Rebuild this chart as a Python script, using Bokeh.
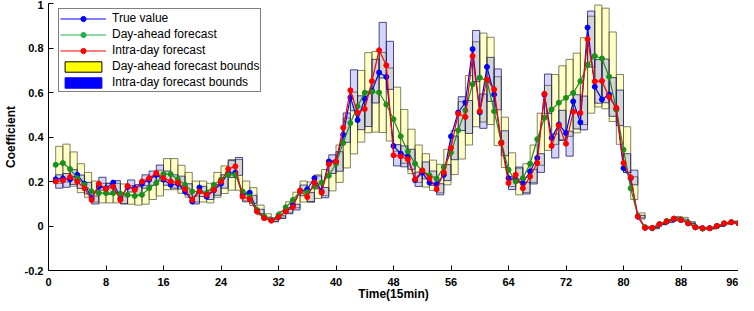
from bokeh.plotting import figure
from bokeh.models import Legend, LegendItem, FixedTicker, ColumnDataSource, Range1d
from bokeh.embed import file_html
from bokeh.resources import INLINE

# ---------------- data ----------------
time_index = list(range(1, 97))

true_value = [0.21, 0.214, 0.21, 0.23, 0.19, 0.125, 0.177, 0.17, 0.195, 0.125,
              0.175, 0.17, 0.19, 0.208, 0.23, 0.208, 0.185, 0.19, 0.155, 0.11,
              0.173, 0.132, 0.16, 0.19, 0.238, 0.24, 0.14, 0.15, 0.07, 0.04,
              0.027, 0.04, 0.068, 0.095, 0.155, 0.165, 0.215, 0.155, 0.29, 0.29,
              0.41, 0.578, 0.476, 0.572, 0.608, 0.69, 0.67, 0.36, 0.325, 0.313,
              0.206, 0.24, 0.195, 0.188, 0.23, 0.403, 0.51, 0.555, 0.795, 0.511,
              0.715, 0.591, 0.376, 0.215, 0.208, 0.193, 0.245, 0.306, 0.591, 0.396,
              0.456, 0.418, 0.56, 0.466, 0.892, 0.626, 0.569, 0.591, 0.524, 0.26,
              0.215, 0.042, -0.008, -0.01, 0.008, 0.02, 0.03, 0.027, 0.012, -0.006,
              -0.01, -0.01, 0.0, 0.01, 0.017, 0.012]

day_ahead = [0.275, 0.283, 0.256, 0.215, 0.185, 0.155, 0.148, 0.148, 0.148, 0.145,
             0.14, 0.135, 0.14, 0.17, 0.193, 0.233, 0.233, 0.21, 0.185, 0.155,
             0.155, 0.148, 0.185, 0.208, 0.23, 0.23, 0.155, 0.132, 0.072, 0.042,
             0.027, 0.05, 0.084, 0.117, 0.155, 0.152, 0.177, 0.195, 0.226, 0.28,
             0.373, 0.463, 0.538, 0.599, 0.603, 0.6, 0.546, 0.48, 0.403, 0.335,
             0.28, 0.25, 0.228, 0.213, 0.265, 0.33, 0.43, 0.52, 0.637, 0.667,
             0.652, 0.516, 0.376, 0.253, 0.2, 0.215, 0.28, 0.39, 0.486, 0.524,
             0.554, 0.576, 0.598, 0.651, 0.725, 0.764, 0.753, 0.671, 0.524, 0.343,
             0.17, 0.045, -0.005, -0.01, 0.008, 0.022, 0.033, 0.03, 0.015, -0.004,
             -0.012, -0.01, 0.0, 0.012, 0.017, 0.012]

intra_day = [0.2, 0.205, 0.22, 0.199, 0.17, 0.117, 0.19, 0.167, 0.177, 0.117,
             0.18, 0.162, 0.2, 0.215, 0.238, 0.215, 0.2, 0.195, 0.165, 0.117,
             0.155, 0.14, 0.162, 0.2, 0.256, 0.268, 0.132, 0.12, 0.065, 0.035,
             0.024, 0.04, 0.065, 0.085, 0.16, 0.13, 0.196, 0.15, 0.278, 0.29,
             0.442, 0.61, 0.509, 0.526, 0.651, 0.79, 0.722, 0.318, 0.313, 0.3,
             0.21, 0.25, 0.215, 0.165, 0.24, 0.351, 0.505, 0.49, 0.764, 0.516,
             0.659, 0.614, 0.372, 0.193, 0.23, 0.17, 0.222, 0.283, 0.594, 0.36,
             0.452, 0.37, 0.513, 0.508, 0.84, 0.65, 0.652, 0.58, 0.531, 0.283,
             0.218, 0.042, -0.008, -0.008, 0.008, 0.02, 0.033, 0.027, 0.012, -0.006,
             -0.01, -0.01, 0.0, 0.012, 0.017, 0.012]

# half-height of the forecast bound boxes
day_ahead_band = [0.083, 0.085, 0.077, 0.065, 0.056, 0.047, 0.044, 0.044, 0.044, 0.044,
                  0.042, 0.041, 0.042, 0.051, 0.058, 0.07, 0.07, 0.063, 0.056, 0.047,
                  0.047, 0.044, 0.056, 0.062, 0.069, 0.069, 0.047, 0.04, 0.022, 0.013,
                  0.008, 0.015, 0.025, 0.035, 0.047, 0.046, 0.053, 0.059, 0.068, 0.084,
                  0.112, 0.139, 0.161, 0.18, 0.181, 0.18, 0.164, 0.144, 0.121, 0.1,
                  0.084, 0.075, 0.068, 0.064, 0.08, 0.099, 0.129, 0.156, 0.191, 0.2,
                  0.196, 0.155, 0.113, 0.076, 0.06, 0.065, 0.084, 0.117, 0.146, 0.157,
                  0.166, 0.173, 0.179, 0.195, 0.218, 0.229, 0.226, 0.201, 0.157, 0.103,
                  0.051, 0.014, 0.003, 0.003, 0.003, 0.007, 0.01, 0.009, 0.005, 0.002,
                  0.004, 0.003, 0.001, 0.004, 0.005, 0.004]

intra_day_band = [0.03, 0.031, 0.033, 0.03, 0.026, 0.018, 0.029, 0.025, 0.027, 0.018,
                  0.027, 0.024, 0.03, 0.032, 0.036, 0.032, 0.03, 0.029, 0.025, 0.018,
                  0.023, 0.021, 0.024, 0.03, 0.038, 0.04, 0.02, 0.018, 0.01, 0.005,
                  0.004, 0.006, 0.01, 0.013, 0.024, 0.02, 0.029, 0.023, 0.042, 0.044,
                  0.066, 0.092, 0.076, 0.079, 0.098, 0.125, 0.108, 0.048, 0.047, 0.045,
                  0.032, 0.038, 0.032, 0.025, 0.036, 0.053, 0.076, 0.074, 0.115, 0.077,
                  0.099, 0.092, 0.056, 0.029, 0.035, 0.026, 0.033, 0.042, 0.089, 0.054,
                  0.068, 0.056, 0.077, 0.076, 0.126, 0.098, 0.098, 0.087, 0.08, 0.042,
                  0.033, 0.006, 0.001, 0.001, 0.001, 0.003, 0.005, 0.004, 0.002, 0.001,
                  0.002, 0.002, 0.0, 0.002, 0.003, 0.002]

x_ticks = [0, 8, 16, 24, 32, 40, 48, 56, 64, 72, 80, 88, 96]
y_ticks = [-0.2, 0, 0.2, 0.4, 0.6, 0.8, 1]
y_tick_labels = ["-0.2", "0", "0.2", "0.4", "0.6", "0.8", "1"]

# ---------------- sources ----------------
src = ColumnDataSource(dict(
    t=time_index,
    t_right=[v + 1 for v in time_index],
    true_value=true_value,
    day_ahead=day_ahead,
    intra_day=intra_day,
    da_low=[f - b for f, b in zip(day_ahead, day_ahead_band)],
    da_high=[f + b for f, b in zip(day_ahead, day_ahead_band)],
    id_low=[f - b for f, b in zip(intra_day, intra_day_band)],
    id_high=[f + b for f, b in zip(intra_day, intra_day_band)],
))

FONT = "Liberation Sans"

p = figure(width=738, height=303, x_range=Range1d(0, 96), y_range=Range1d(-0.2, 1),
           output_backend="svg", toolbar_location=None,
           min_border_left=39, min_border_right=0, min_border_top=3, min_border_bottom=0)
p.xgrid.visible = False
p.ygrid.visible = False
p.outline_line_color = None
p.background_fill_color = "white"

# bound boxes
da_r = p.quad(left="t", right="t_right", bottom="da_low", top="da_high", source=src,
              fill_color="#ffff00", fill_alpha=0.22, line_color="#5a5a3a", line_alpha=0.75,
              line_width=1)
id_r = p.quad(left="t", right="t_right", bottom="id_low", top="id_high", source=src,
              fill_color="#0000ff", fill_alpha=0.17, line_color="#202060", line_alpha=0.8,
              line_width=1)

# series
GREEN = "#1a8f1a"
tl = p.line("t", "true_value", source=src, line_color="#0000ff", line_width=1.2)
ts = p.scatter("t", "true_value", source=src, size=5, fill_color="#0000ff", line_color="#0000ff")
gl = p.line("t", "day_ahead", source=src, line_color=GREEN, line_width=1.2)
gs = p.scatter("t", "day_ahead", source=src, size=5, fill_color=GREEN, line_color=GREEN)
rl = p.line("t", "intra_day", source=src, line_color="#ff0000", line_width=1.2)
rs = p.scatter("t", "intra_day", source=src, size=5, fill_color="#ff0000", line_color="#ff0000")

# legend proxies (placed outside the visible range; full colour patches as in the original legend)
proxy = ColumnDataSource(dict(x=[-20, -19], y=[-5, -5], l=[-20, -20], r=[-19, -19],
                              b=[-5, -5], t=[-4, -4]))
leg_true_l = p.line("x", "y", source=proxy, line_color="#0000ff", line_width=1)
leg_true_m = p.scatter("x", "y", source=proxy, size=9, fill_color="#0000ff", line_color="#0000ff")
leg_da_l = p.line("x", "y", source=proxy, line_color="#22b14c", line_width=1)
leg_da_m = p.scatter("x", "y", source=proxy, size=9, fill_color="#22b14c", line_color="#22b14c")
leg_id_l = p.line("x", "y", source=proxy, line_color="#ff0000", line_width=1)
leg_id_m = p.scatter("x", "y", source=proxy, size=9, fill_color="#ff0000", line_color="#ff0000")
leg_da_box = p.quad(left="l", right="r", bottom="b", top="t", source=proxy,
                    fill_color="#ffff00", line_color="black", line_width=1)
leg_id_box = p.quad(left="l", right="r", bottom="b", top="t", source=proxy,
                    fill_color="#0000ff", line_color="#0000ff", line_width=1)

legend = Legend(items=[
    LegendItem(label="True value", renderers=[leg_true_l, leg_true_m], index=0),
    LegendItem(label="Day-ahead forecast", renderers=[leg_da_l, leg_da_m], index=0),
    LegendItem(label="Intra-day forecast", renderers=[leg_id_l, leg_id_m], index=0),
    LegendItem(label="Day-ahead forecast bounds", renderers=[leg_da_box], index=0),
    LegendItem(label="Intra-day forecast bounds", renderers=[leg_id_box], index=0),
], location=(10, 178))
legend.border_line_color = "black"
legend.border_line_width = 1
legend.background_fill_color = "white"
legend.background_fill_alpha = 1
legend.padding = 1
legend.spacing = 0
legend.margin = 0
legend.label_height = 16
legend.glyph_height = 13
legend.glyph_width = 46
legend.label_standoff = 6
legend.label_text_font = FONT
legend.label_text_font_size = "12px"
legend.label_text_color = "black"
p.add_layout(legend, "center")

# axes
for ax in (p.xaxis[0], p.yaxis[0]):
    ax.axis_line_color = "black"
    ax.axis_line_width = 1
    ax.major_tick_in = 5
    ax.major_tick_out = 0
    ax.minor_tick_in = 0
    ax.minor_tick_out = 0
    ax.major_tick_line_color = "black"
    ax.major_label_text_font = FONT
    ax.major_label_text_font_style = "bold"
    ax.major_label_text_font_size = "11px"
    ax.major_label_text_color = "black"
    ax.axis_label_text_font = FONT
    ax.axis_label_text_font_style = "bold"
    ax.axis_label_text_font_size = "12px"
    ax.axis_label_text_color = "black"

p.xaxis.ticker = FixedTicker(ticks=x_ticks)
p.yaxis.ticker = FixedTicker(ticks=y_ticks)
p.yaxis.major_label_overrides = {v: s for v, s in zip(y_ticks, y_tick_labels)}
p.xaxis.axis_label = "Time(15min)"
p.yaxis.axis_label = "Coefficient"
p.xaxis.major_label_standoff = 7
p.xaxis.axis_label_standoff = -2
p.yaxis.major_label_standoff = 5
p.yaxis.axis_label_standoff = 4

open("out.html", "w").write(file_html(p, INLINE))
